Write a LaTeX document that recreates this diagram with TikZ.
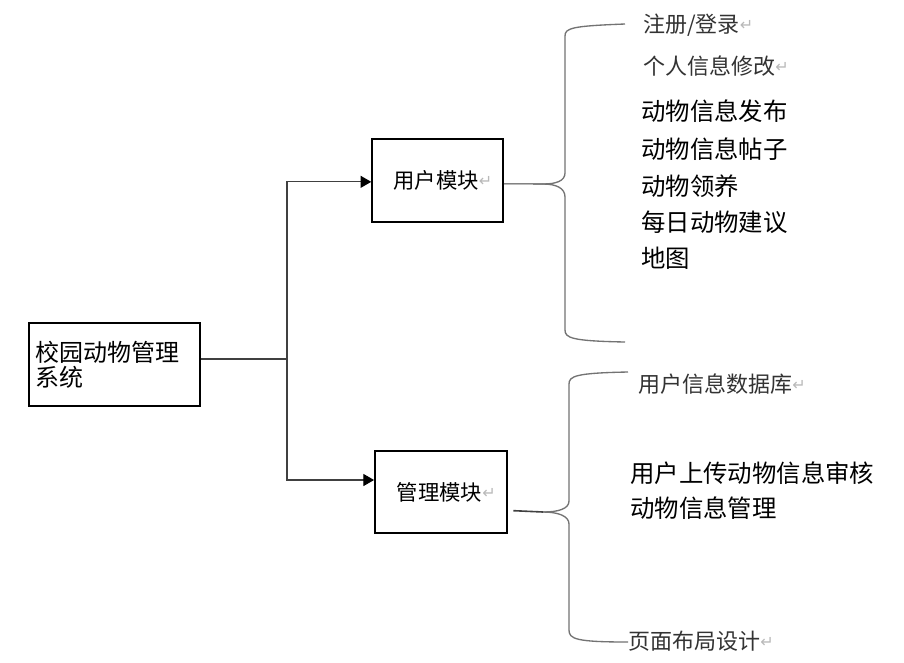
\documentclass[tikz,border=0pt]{standalone}
\usepackage{fontspec}
\usepackage{tikz}
\usetikzlibrary{arrows.meta}
\newfontfamily\cjk{Noto Sans CJK SC}
\newfontfamily\dejavu{DejaVu Sans}
\newcommand{\retmark}{{\dejavu\color{gray!55}\fontsize{12}{12}\selectfont\raisebox{1.5pt}{↵}}}

\begin{document}
\begin{tikzpicture}[x=0.75pt,y=-0.75pt,
    box/.style={draw=black, line width=1.4pt, inner sep=0pt, font=\cjk\fontsize{16}{18}\selectfont},
    link/.style={draw=black!75, line width=0.8pt},
    brace/.style={draw=black!55, line width=1pt},
    item/.style={anchor=west, inner sep=0pt, font=\cjk\fontsize{18.3}{20}\selectfont},
    gitem/.style={anchor=west, inner sep=0pt, text=black!80, font=\cjk\fontsize{16.5}{18}\selectfont}]
\useasboundingbox[fill=white] (0,0) rectangle (904,662);

% boxes
\node[box, minimum width=128pt, minimum height=62pt, text width=119pt, inner xsep=4.5pt, align=left,
      font=\cjk\fontsize{18}{19}\selectfont] (sys) at (114.5,364.5) {校园动物管理\\系统};
\node[box, minimum width=98pt, minimum height=62pt] (user) at (437.5,180.5) {\hspace*{8pt}用户模块\retmark};
\node[box, minimum width=99pt, minimum height=61.5pt] (manage) at (441,492) {\hspace*{8pt}管理模块\retmark};

\coordinate (fork) at (287,359);
\coordinate (ut) at (543,184);
\coordinate (mt) at (543,512);

% connectors
\draw[link] (sys.east |- fork) -- (fork);
\draw[link, -{Triangle[length=8pt,width=9pt,color=black]}] (fork) |- ([yshift=-1pt]user.west);
\draw[link, -{Triangle[length=8pt,width=9pt,color=black]}] (fork) |- ([yshift=9pt]manage.west);
\draw[link] ([yshift=-2.5pt]user.east) -- (ut);
\draw[link, line width=1.2pt] ([xshift=4pt,yshift=-14pt]manage.east) -- (mt);

% braces
\draw[brace] (ut) .. controls (556,184) and (565,181) .. (565,173) -- (565,36)
             .. controls (565,28) and (572,26) .. (625,24);
\draw[brace] (ut) .. controls (556,184) and (565,188) .. (565,197) -- (565,330)
             .. controls (565,338) and (572,341) .. (625,342);
\draw[brace] (mt) .. controls (558,512) and (569,509) .. (569,501) -- (569,384)
             .. controls (569,376) and (576,373) .. (628,372);
\draw[brace] (mt) .. controls (558,512) and (569,516) .. (569,524) -- (569,630)
             .. controls (569,639) and (576,642) .. (628,642);

% user module items
\node[gitem] (reg) at (643,25) {注册/登录\retmark};
\node[gitem] (info) at (643,66) {个人信息修改\retmark};
\foreach \t/\y [count=\i] in {动物信息发布/111, 动物信息帖子/149, 动物领养/186, 每日动物建议/222, 地图/258}
    \node[item] (u\i) at (641,\y) {\t};

% manage module items
\node[gitem] (db) at (638,384) {用户信息数据库\retmark};
\node[item] (m1) at (630,473) {用户上传动物信息审核};
\node[item] (m2) at (630,508) {动物信息管理};
\node[gitem] (page) at (628,641) {页面布局设计\retmark};

\end{tikzpicture}
\end{document}
